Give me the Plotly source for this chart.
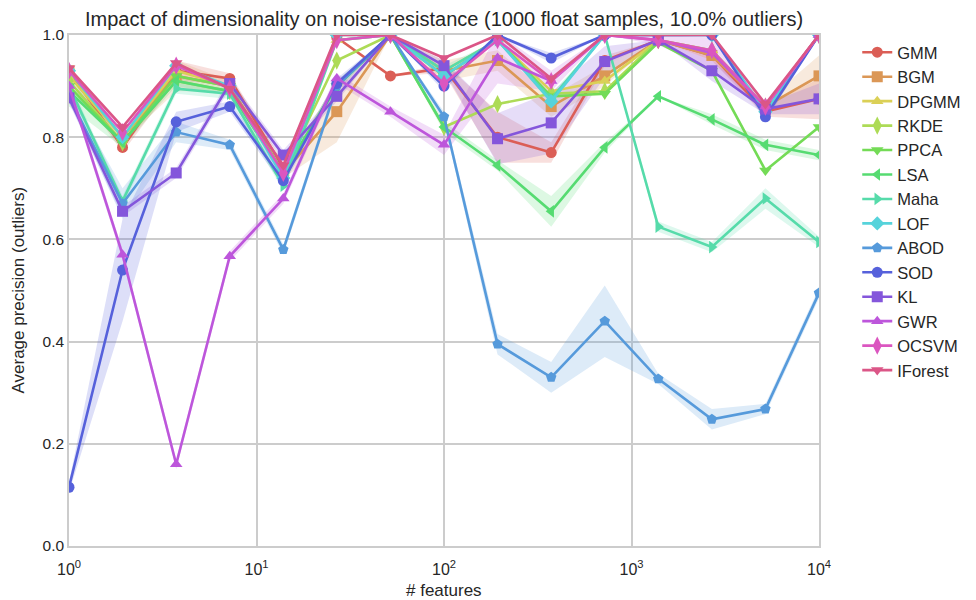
import colorsys
import plotly.graph_objects as go

# number of features (log-spaced)
features = [1, 1.93, 3.73, 7.2, 13.9, 26.8, 51.8, 100, 193, 373, 720, 1389, 2683, 5179, 10000]

methods = ["GMM", "BGM", "DPGMM", "RKDE", "PPCA", "LSA", "Maha", "LOF",
           "ABOD", "SOD", "KL", "GWR", "OCSVM", "IForest"]

gmm = [0.93, 0.78, 0.93, 0.915, 0.74, 0.995, 0.92, 0.935, 0.80, 0.77, 0.95, 0.99, 0.96, 0.85, 0.875]
bgm = [0.93, 0.80, 0.92, 0.90, 0.73, 0.85, 1.0, 0.93, 0.95, 0.86, 0.92, 0.99, 0.96, 0.86, 0.92]
dpgmm = [0.92, 0.80, 0.93, 0.90, 0.73, 0.99, 1.0, 0.93, 0.99, 0.89, 0.91, 0.99, 0.97, 0.86, 1.0]
rkde = [0.91, 0.79, 0.91, 0.89, 0.73, 0.95, 1.0, 0.82, 0.865, 0.885, 0.89, 0.99, 0.97, 0.86, 1.0]
ppca = [0.90, 0.79, 0.92, 0.90, 0.73, 0.90, 1.0, 0.92, 0.99, 0.88, 0.885, 0.985, 0.93, 0.735, 0.82]
lsa = [0.89, 0.79, 0.91, 0.89, 0.73, 0.90, 1.0, 0.82, 0.745, 0.655, 0.78, 0.88, 0.835, 0.785, 0.765]
maha = [0.90, 0.675, 0.895, 0.885, 0.705, 0.99, 1.0, 0.93, 0.99, 0.875, 1.0, 0.625, 0.585, 0.68, 0.595]
lof = [0.93, 0.80, 0.94, 0.90, 0.72, 1.0, 1.0, 0.92, 0.99, 0.87, 1.0, 1.0, 1.0, 0.85, 1.0]
abod = [0.88, 0.67, 0.81, 0.785, 0.58, 0.90, 1.0, 0.84, 0.395, 0.33, 0.44, 0.327, 0.248, 0.268, 0.495]
sod = [0.115, 0.54, 0.83, 0.86, 0.715, 0.905, 1.0, 0.90, 1.0, 0.955, 1.0, 1.0, 1.0, 0.84, 1.0]
kl = [0.877, 0.655, 0.73, 0.905, 0.765, 0.88, 1.0, 0.94, 0.797, 0.828, 0.948, 0.99, 0.93, 0.855, 0.875]
gwr = [0.90, 0.57, 0.16, 0.567, 0.68, 0.915, 0.85, 0.785, 0.955, 0.91, 1.0, 0.99, 0.965, 0.86, 1.0]
ocsvm = [0.93, 0.81, 0.94, 0.895, 0.73, 0.99, 1.0, 0.905, 0.99, 0.91, 1.0, 0.99, 0.97, 0.86, 1.0]
iforest = [0.935, 0.82, 0.945, 0.895, 0.745, 1.0, 1.0, 0.955, 1.0, 0.915, 1.0, 1.0, 1.0, 0.865, 1.0]

values = [gmm, bgm, dpgmm, rkde, ppca, lsa, maha, lof, abod, sod, kl, gwr, ocsvm, iforest]

# half-width of the shaded confidence band (only where it is visible)
err_gmm = [0.01, 0.01, 0.02, 0.01, 0.01, 0.0, 0.0, 0.01, 0.05, 0.02, 0.01, 0.0, 0.01, 0.01, 0.04]
err_bgm = [0.01, 0.01, 0.03, 0.01, 0.01, 0.06, 0.0, 0.02, 0.02, 0.02, 0.02, 0.0, 0.01, 0.01, 0.04]
err_lsa = [0.03, 0.01, 0.01, 0.01, 0.01, 0.01, 0.0, 0.01, 0.01, 0.03, 0.01, 0.0, 0.01, 0.01, 0.01]
err_maha = [0.01, 0.01, 0.01, 0.01, 0.01, 0.0, 0.0, 0.01, 0.0, 0.01, 0.0, 0.01, 0.01, 0.02, 0.01]
err_abod = [0.01, 0.03, 0.02, 0.01, 0.01, 0.01, 0.0, 0.01, 0.02, 0.03, 0.07, 0.01, 0.02, 0.01, 0.01]
err_sod = [0.01, 0.1, 0.02, 0.01, 0.01, 0.01, 0.0, 0.01, 0.0, 0.01, 0.0, 0.0, 0.0, 0.01, 0.0]
err_kl = [0.01, 0.01, 0.01, 0.01, 0.01, 0.01, 0.0, 0.01, 0.05, 0.06, 0.03, 0.0, 0.02, 0.01, 0.03]
err_gwr = [0.01, 0.01, 0.01, 0.01, 0.01, 0.01, 0.01, 0.02, 0.05, 0.02, 0.0, 0.01, 0.03, 0.01, 0.0]
errors = {"GMM": err_gmm, "BGM": err_bgm, "LSA": err_lsa, "Maha": err_maha,
          "ABOD": err_abod, "SOD": err_sod, "KL": err_kl, "GWR": err_gwr}

symbols = ["circle", "square", "triangle-up", "diamond-tall", "triangle-down",
           "triangle-left", "triangle-right", "diamond", "pentagon", "circle",
           "square", "triangle-up", "diamond-tall", "triangle-down"]


def hls_palette(n, h=0.01, l=0.6, s=0.65):
    cols = []
    for i in range(n):
        hue = (h + i / n) % 1
        r, g, b = colorsys.hls_to_rgb(hue, l, s)
        cols.append((int(r * 255), int(g * 255), int(b * 255)))
    return cols


palette = hls_palette(len(methods))

fig = go.Figure()

# confidence bands first
for name, vals, (r, g, b) in zip(methods, values, palette):
    if name not in errors:
        continue
    err = errors[name]
    lo = [v - e for v, e in zip(vals, err)]
    hi = [min(v + e, 1.02) for v, e in zip(vals, err)]
    fig.add_trace(go.Scatter(x=features, y=lo, mode="lines", line=dict(width=0),
                             showlegend=False, hoverinfo="skip"))
    fig.add_trace(go.Scatter(x=features, y=hi, mode="lines", line=dict(width=0),
                             fill="tonexty", fillcolor=f"rgba({r},{g},{b},0.2)",
                             showlegend=False, hoverinfo="skip"))

for name, vals, sym, (r, g, b) in zip(methods, values, symbols, palette):
    col = f"rgb({r},{g},{b})"
    size = 13 if sym == "diamond-tall" else 11
    fig.add_trace(go.Scatter(
        x=features, y=vals, name=name, mode="lines+markers",
        line=dict(color=col, width=2.6),
        marker=dict(symbol=sym, size=size, color=col, line=dict(width=0)),
    ))

# page body adds an 8px offset, so margins are shifted by 8px
W, H = 976, 592
grid = "#cccccc"
fig.update_layout(
    width=W, height=H,
    paper_bgcolor="white", plot_bgcolor="white",
    font=dict(family="Liberation Sans, Arial, sans-serif", size=15, color="#262626"),
    margin=dict(l=61, r=165, t=27, b=54),
    title=dict(text="Impact of dimensionality on noise-resistance (1000 float samples, 10.0% outliers)",
               x=436 / W, xanchor="center", y=1 - 11 / H, yanchor="middle",
               font=dict(size=20, color="#262626")),
    legend=dict(x=1.051, y=1.0, xanchor="left", yanchor="top", traceorder="normal",
                font=dict(size=16.5), bgcolor="rgba(0,0,0,0)"),
    xaxis=dict(type="log", range=[0, 4], automargin=False,
               tickvals=[1, 10, 100, 1000, 10000],
               ticktext=["10<sup>0</sup>", "10<sup>1</sup>", "10<sup>2</sup>",
                         "10<sup>3</sup>", "10<sup>4</sup>"],
               tickfont=dict(size=16), ticklabelstandoff=8,
               showgrid=True, gridcolor=grid, gridwidth=1.5,
               showline=True, linecolor=grid, linewidth=1.5, mirror=True,
               zeroline=False, ticks=""),
    yaxis=dict(range=[0, 1], tickvals=[0, 0.2, 0.4, 0.6, 0.8, 1.0], automargin=False,
               tickformat=".1f", tickfont=dict(size=15.5),
               showgrid=True, gridcolor=grid, gridwidth=1.5,
               showline=True, linecolor=grid, linewidth=1.5, mirror=True,
               zeroline=False, ticks=""),
    annotations=[
        dict(text="# features", xref="paper", yref="paper", x=0.5, y=0,
             yanchor="middle", yshift=-44, showarrow=False, font=dict(size=17)),
        dict(text="Average precision (outliers)", xref="paper", yref="paper", x=0, y=0.5,
             xanchor="center", xshift=-51, textangle=-90, showarrow=False,
             font=dict(size=17)),
    ],
)

fig.write_html("out.html")
